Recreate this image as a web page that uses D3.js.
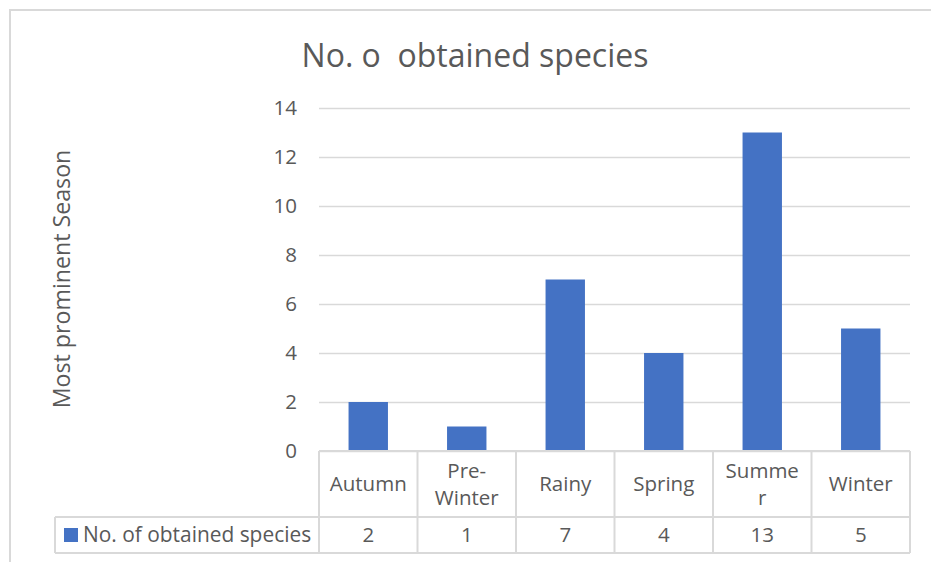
<!DOCTYPE html>
<html>
<head>
<meta charset="utf-8">
<script src="https://cdn.jsdelivr.net/npm/d3@7/dist/d3.min.js"></script>
<style>
  html, body { margin: 0; padding: 0; background: #fff; }
  svg { display: block; font-family: "Open Sans", "Noto Sans", sans-serif; }
  .keep-space { white-space: pre; }
</style>
</head>
<body>
<svg id="chart" width="931" height="562"></svg>
<script>
// Season categories (header lines of the data table) and counts
const categories = ["Autumn", "Pre-Winter", "Rainy", "Spring", "Summer", "Winter"];
const categoryLines = [["Autumn"], ["Pre-", "Winter"], ["Rainy"], ["Spring"], ["Summe", "r"], ["Winter"]];
const speciesCounts = [2, 1, 7, 4, 13, 5];
const yTicks = [0, 2, 4, 6, 8, 10, 12, 14];
const seriesName = "No. of obtained species";
const chartTitle = "No. o  obtained species";
const yAxisTitle = "Most prominent Season";

const svg = d3.select("#chart");
const textColor = "#595959";
const gridColor = "#d9d9d9";
const barColor = "#4472c4";
const labelSize = 20.5;

// chart frame
svg.append("path")
  .attr("d", "M10,562 L10,10 L931,10")
  .attr("fill", "none")
  .attr("stroke", gridColor)
  .attr("stroke-width", 2);

const plot = { left: 319, right: 910, top: 108, bottom: 451 };

const x = d3.scaleBand()
  .domain(categories)
  .range([plot.left, plot.right])
  .paddingInner(0.6)
  .paddingOuter(0.3);

const y = d3.scaleLinear()
  .domain([0, 14])
  .range([plot.bottom, plot.top]);

// gridlines + tick labels
const yAxis = d3.axisLeft(y)
  .tickValues(yTicks)
  .tickSize(-(plot.right - plot.left))
  .tickPadding(22)
  .tickFormat(d3.format("d"));

const gy = svg.append("g")
  .attr("transform", `translate(${plot.left},0)`)
  .call(yAxis);
gy.select(".domain").remove();
gy.selectAll(".tick line").attr("stroke", gridColor).attr("stroke-width", 1.3);
gy.selectAll(".tick text")
  .attr("fill", textColor)
  .attr("font-size", labelSize)
  .attr("font-family", "'Open Sans', sans-serif");

// bars
svg.append("g")
  .selectAll("rect")
  .data(speciesCounts)
  .join("rect")
  .attr("x", (d, i) => x(categories[i]))
  .attr("y", d => y(d))
  .attr("width", x.bandwidth())
  .attr("height", d => y(0) - y(d))
  .attr("fill", barColor);

// title
svg.append("text")
  .attr("class", "keep-space")
  .attr("x", 475)
  .attr("y", 67)
  .attr("text-anchor", "middle")
  .attr("fill", textColor)
  .attr("font-size", 32)
  .text(chartTitle);

// y axis title
svg.append("text")
  .attr("transform", "translate(70,279) rotate(-90)")
  .attr("text-anchor", "middle")
  .attr("fill", textColor)
  .attr("font-size", 23.2)
  .text(yAxisTitle);

// data table
const table = { headerTop: 451, rowTop: 517, rowBottom: 553, legendLeft: 55 };
const step = x.step();
const colEdges = categories.map((c, i) => plot.left + i * step).concat([plot.right]);
const tg = svg.append("g");
const lineStyle = sel => sel.attr("stroke", gridColor).attr("stroke-width", 2).attr("fill", "none");

// horizontal rules
tg.append("line").attr("x1", plot.left).attr("x2", plot.right)
  .attr("y1", table.headerTop).attr("y2", table.headerTop).call(lineStyle);
tg.append("line").attr("x1", table.legendLeft).attr("x2", plot.right)
  .attr("y1", table.rowTop).attr("y2", table.rowTop).call(lineStyle);
tg.append("line").attr("x1", table.legendLeft).attr("x2", plot.right)
  .attr("y1", table.rowBottom).attr("y2", table.rowBottom).call(lineStyle);
// vertical rules
tg.selectAll("line.col")
  .data(colEdges)
  .join("line")
  .attr("class", "col")
  .attr("x1", d => d).attr("x2", d => d)
  .attr("y1", table.headerTop).attr("y2", table.rowBottom)
  .call(lineStyle);
tg.append("line").attr("x1", table.legendLeft).attr("x2", table.legendLeft)
  .attr("y1", table.rowTop).attr("y2", table.rowBottom).call(lineStyle);

// header labels
const headerMid = (table.headerTop + table.rowTop) / 2;
const lineH = 27;
tg.selectAll("text.head")
  .data(categories)
  .join("text")
  .attr("class", "head")
  .attr("text-anchor", "middle")
  .attr("fill", textColor)
  .attr("font-size", labelSize)
  .each(function (d, i) {
    const lines = categoryLines[i];
    const cx = x(d) + x.bandwidth() / 2;
    const y0 = headerMid - (lines.length - 1) * lineH / 2;
    d3.select(this).selectAll("tspan")
      .data(lines)
      .join("tspan")
      .attr("x", cx)
      .attr("y", (l, k) => y0 + k * lineH)
      .attr("dy", "0.35em")
      .text(l => l);
  });

// value row
const rowMid = (table.rowTop + table.rowBottom) / 2;
tg.selectAll("text.val")
  .data(speciesCounts)
  .join("text")
  .attr("class", "val")
  .attr("x", (d, i) => x(categories[i]) + x.bandwidth() / 2)
  .attr("y", rowMid)
  .attr("dy", "0.35em")
  .attr("text-anchor", "middle")
  .attr("fill", textColor)
  .attr("font-size", labelSize)
  .text(d => d);

// legend key + series name
tg.append("rect")
  .attr("x", 64).attr("y", rowMid - 7)
  .attr("width", 14).attr("height", 14)
  .attr("fill", barColor);
tg.append("text")
  .attr("x", 83).attr("y", rowMid)
  .attr("dy", "0.35em")
  .attr("fill", textColor)
  .attr("font-size", 20.9)
  .text(seriesName);
</script>
</body>
</html>
